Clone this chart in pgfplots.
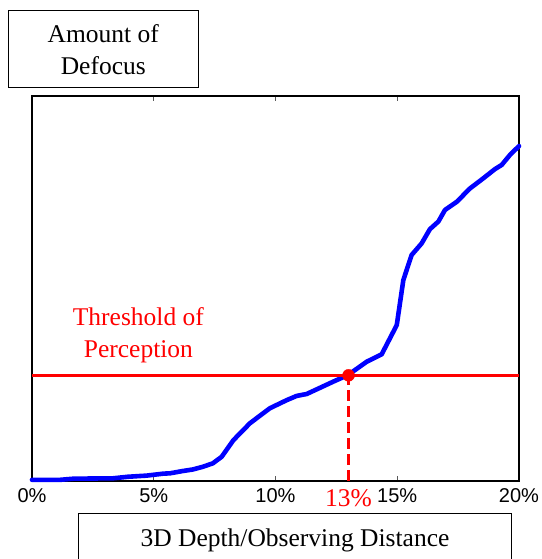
\documentclass[border=0pt]{standalone}
\usepackage{pgfplots}
\pgfplotsset{compat=1.18}
\usepackage{fontspec}
\setmainfont{Liberation Serif}
\newfontfamily\arial{Liberation Sans}
\begin{document}
\begin{tikzpicture}[x=1pt,y=1pt]
\useasboundingbox (0,0) rectangle (541,559);
\begin{axis}[
  at={(32pt,78pt)}, anchor=south west,
  scale only axis, width=487pt, height=385pt,
  xmin=0, xmax=20, ymin=0, ymax=100,
  ytick=\empty,
  xtick={0,5,10,15,20},
  xticklabels={0\%,5\%,10\%,15\%,20\%},
  /pgf/number format/assume math mode=true,
  xticklabel style={font=\arial\fontsize{20}{24}\selectfont, yshift=-4.5pt},
  tick align=inside, xtick pos=both,
  major tick length=5pt,
  tick style={gray!70!black, line width=1pt},
  axis line style={line width=1.3pt},
  clip=false,
]
\addplot[blue, line width=4.6pt, line join=round, line cap=round] coordinates {
(0,0.3)(1.15,0.3)(1.70,0.6)(3.33,0.7)(3.94,1.1)(4.71,1.4)(5.38,1.9)(5.67,2.0)
(6.20,2.6)(6.61,3.0)(7.02,3.7)(7.43,4.6)(7.79,6.3)(8.27,10.6)(8.95,15.0)
(9.77,18.9)(10.46,21.0)(10.87,22.1)(11.28,22.6)(11.69,23.8)(12.37,25.8)
(12.97,27.5)(13.75,31.0)(14.36,32.9)(14.98,40.5)(15.25,52.2)(15.59,58.7)
(16.0,61.7)(16.34,65.4)(16.69,67.4)(16.96,70.4)(17.44,72.5)(17.99,76.0)
(18.53,78.6)(19.01,81.0)(19.29,82.1)(19.63,84.7)(20,87.0)};
\addplot[red, line width=2.4pt] coordinates {(0,27.45)(20,27.45)};
\addplot[red, line width=2.6pt, dash pattern=on 11pt off 5pt] coordinates {(13,0)(13,27.45)};
\addplot[red, only marks, mark=*, mark size=6pt] coordinates {(13,27.45)};
\node[red, anchor=base, font=\fontsize{25.5}{30}\selectfont] at (axis cs:13,0) [yshift=-25.7pt] {13\%};
\node[red, align=center, font=\fontsize{25.5}{32.5}\selectfont] at (axis cs:4.37,37.9) {Threshold of\\Perception};
\end{axis}
\node[draw, line width=1.1pt, minimum width=190pt, minimum height=77pt, align=center,
      font=\fontsize{25.5}{32}\selectfont, inner sep=0pt] at (103.3,509.8) {Amount of\\Defocus};
\draw[line width=1.1pt] (78.3,-20) -- (78.3,45.3) -- (511.7,45.3) -- (511.7,-20);
\node[anchor=base, font=\fontsize{25.5}{30}\selectfont, inner sep=0pt] at (295,12.3) {3D Depth/Observing Distance};
\end{tikzpicture}
\end{document}
